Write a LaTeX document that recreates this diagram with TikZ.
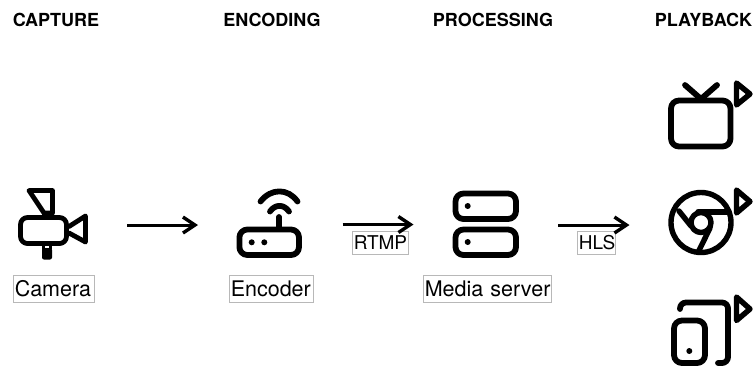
\documentclass[tikz,border=0pt]{standalone}
\usepackage{fontspec}
\setmainfont{TeX Gyre Heros}
\usetikzlibrary{arrows.meta}
\tikzset{
  icon/.style={line width=4.8pt,line cap=round,line join=round,black},
  iconthick/.style={line width=5.8pt,line cap=round,line join=round,black},
  playtri/.style={line width=5.4pt,line join=round,black},
  heading/.style={font=\fontsize{18}{20}\selectfont\bfseries,inner sep=0pt,anchor=center},
  lbl/.style={font=\fontsize{21.5}{24}\selectfont,draw=black!28,line width=0.6pt,inner ysep=0pt,inner xsep=1.5pt,align=left,anchor=center,minimum height=27.5pt},
  small/.style={font=\fontsize{19}{22}\selectfont,draw=black!28,line width=0.6pt,inner ysep=0pt,inner xsep=1.5pt,align=left,anchor=center,minimum height=22.5pt},
  conn/.style={line width=3pt,-{Straight Barb[length=12pt,width=16pt,line width=3.4pt]}},
  dot/.style={fill=black,draw=none,circle,minimum size=6pt,inner sep=0pt},
}
\begin{document}
\begin{tikzpicture}[x=1pt,y=-1pt]
\useasboundingbox (0,0) rectangle (755,365);
% headings
\node[heading] (h1) at (56,20) {CAPTURE};
\node[heading] (h2) at (272,20) {ENCODING};
\node[heading] (h3) at (493,20) {PROCESSING};
\node[heading] (h4) at (703.5,20) {PLAYBACK};
% camera
\draw[icon] (29,190.5) -- (52.5,190.5) -- (52.5,213) -- (44,213) -- cycle;
\draw[icon,line width=3pt] (43.5,213) -- (43.5,217) (52,213) -- (52,217);
\draw[icon,rounded corners=7pt] (20.5,217.5) rectangle (66.5,243.5);
\draw[icon] (69,226.5) -- (85.5,216) -- (85.5,242) -- (69,233);
\draw[icon,line width=3pt] (43.5,245) -- (43.5,249) (50.5,245) -- (50.5,249);
\fill[black,rounded corners=2pt] (42,248) rectangle (52,259.5);
% encoder
\draw[iconthick,rounded corners=8pt] (239.4,229.5) rectangle (299,255);
\draw[iconthick] (279,217) -- (279,229);
\draw[iconthick] (270,211.5) .. controls (275,204) and (284,204) .. (289,211.5);
\draw[iconthick] (260.5,201.5) .. controls (271,188) and (288,188) .. (297.5,201.5);
\node[dot] (ed1) at (251.7,242.3) {};
\node[dot] (ed2) at (264.3,242.3) {};
% server
\draw[iconthick,rounded corners=8pt] (455.5,193.5) rectangle (516,219);
\draw[iconthick,rounded corners=8pt] (455.5,229.5) rectangle (516,255);
\node[dot] (sd1) at (467.7,206) {};
\node[dot] (sd2) at (467.7,242) {};
% tv
\draw[iconthick,rounded corners=8pt] (671,100.5) rectangle (730.5,146.5);
\draw[iconthick] (685,85) -- (701,99) -- (717,85);
\draw[playtri] (736.5,83) -- (750,94) -- (736.5,105) -- cycle;
% chrome
\draw[iconthick,line width=5.4pt] (701,222.5) circle (30);
\draw[iconthick,line width=5.4pt] (701,222.5) circle (10);
\draw[iconthick,line width=5.4pt] (698,212) -- (729,212);
\draw[iconthick,line width=5.4pt] (679,211) -- (691,226);
\draw[iconthick,line width=5.4pt] (710,228) -- (698.5,251.5);
\draw[playtri] (736.5,190) -- (750,201.5) -- (736.5,213) -- cycle;
% devices
\draw[iconthick,rounded corners=6pt] (680,309) -- (680,302.5) -- (728,302.5) -- (728,363) -- (718,363);
\draw[iconthick,rounded corners=8pt] (674,320.5) rectangle (705,363);
\node[dot] (dd) at (689.3,351) {};
\draw[playtri] (736.5,297) -- (750,309) -- (736.5,320.5) -- cycle;
% labels
\node[lbl,text width=78.5pt] (cam) at (54,289) {Camera};
\node[lbl,text width=81.5pt] (enc) at (271.5,289) {Encoder};
\node[lbl,text width=125.5pt] (med) at (487.5,289) {\mbox{Media server}};
\node[small,text width=53.5pt] (rtmp) at (380.5,243) {RTMP};
\node[small,text width=35pt] (hls) at (596.3,243) {HLS};
% connectors
\coordinate (a1) at (127,225); \coordinate (b1) at (198,225);
\coordinate (a2) at (342.7,224.5); \coordinate (b2) at (413.5,224.5);
\coordinate (a3) at (558,225); \coordinate (b3) at (629.5,225);
\draw[conn] (a1) -- (b1);
\draw[conn] (a2) -- (b2);
\draw[conn] (a3) -- (b3);
\end{tikzpicture}
\end{document}
